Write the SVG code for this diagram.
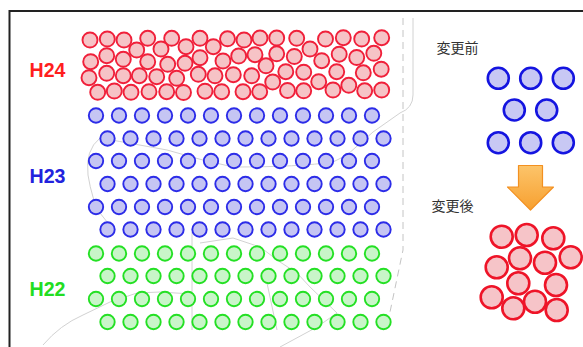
<svg xmlns="http://www.w3.org/2000/svg" xmlns:xlink="http://www.w3.org/1999/xlink" width="583" height="347" viewBox="0 0 583 347">
<style>
.bg{fill:none;stroke:#d2d2d2;stroke-width:1}
.dash{fill:none;stroke:#c4c4c4;stroke-width:1;stroke-dasharray:7 5}
.red{fill:#f6c3c6;stroke:#f0203a;stroke-width:1.9}
.blue{fill:#c5c5f3;stroke:#2c2ce8;stroke-width:1.9}
.green{fill:#c9f5c9;stroke:#24e024;stroke-width:1.9}
.rb{fill:#c8c8f4;stroke:#1414e0;stroke-width:2.6}
.rr{fill:#f6c4c8;stroke:#ee1428;stroke-width:2.6}
.lbl{font-family:"Liberation Sans",Arial,sans-serif;font-weight:bold;font-size:20px}
.jp{font-family:"Noto Sans CJK JP","Noto Sans CJK SC",sans-serif;font-size:14px;fill:#333}
</style>
<defs>
<g id="rowO">
<circle cx="96" cy="0" r="7.2"/><circle cx="119" cy="0" r="7.2"/><circle cx="142" cy="0" r="7.2"/><circle cx="165" cy="0" r="7.2"/><circle cx="188" cy="0" r="7.2"/><circle cx="211" cy="0" r="7.2"/><circle cx="234" cy="0" r="7.2"/><circle cx="257" cy="0" r="7.2"/><circle cx="280" cy="0" r="7.2"/><circle cx="303" cy="0" r="7.2"/><circle cx="326" cy="0" r="7.2"/><circle cx="349" cy="0" r="7.2"/><circle cx="372" cy="0" r="7.2"/>
</g>
<g id="rowE">
<circle cx="107.5" cy="0" r="7.2"/><circle cx="130.5" cy="0" r="7.2"/><circle cx="153.5" cy="0" r="7.2"/><circle cx="176.5" cy="0" r="7.2"/><circle cx="199.5" cy="0" r="7.2"/><circle cx="222.5" cy="0" r="7.2"/><circle cx="245.5" cy="0" r="7.2"/><circle cx="268.5" cy="0" r="7.2"/><circle cx="291.5" cy="0" r="7.2"/><circle cx="314.5" cy="0" r="7.2"/><circle cx="337.5" cy="0" r="7.2"/><circle cx="360.5" cy="0" r="7.2"/><circle cx="383.5" cy="0" r="7.2"/>
</g>
<linearGradient id="og" x1="0" y1="0" x2="0" y2="1">
<stop offset="0" stop-color="#fcc46a"/>
<stop offset="1" stop-color="#f7a030"/>
</linearGradient>
</defs>
<rect width="583" height="347" fill="#fff"/>
<g id="background">
<path class="dash" d="M403,18 V250 L390,312"/>
<path class="bg" d="M413,18 V95 Q413,108 400,113 L373,132 L347,155 L333,162 Q300,167 233,167"/>
<path class="bg" d="M100,138 Q140,145 167,150 Q200,160 233,167"/>
<path class="bg" d="M100,138 Q85,150 88,175 Q92,200 100,213 L115,232"/>
<path class="bg" d="M43,345 Q60,325 83,315 L110,302 L137,293 L160,292 L192,294"/>
<path class="bg" d="M192,232 V330"/>
<path class="bg" d="M200,243 L233,238 L260,247 L280,262 L297,273 L310,287 L337,313 L317,327 L280,347"/>
<path class="bg" d="M267,283 L277,330"/>
</g>
<g id="frame" fill="none" stroke="#222" stroke-width="2">
<path d="M9.5,347 V11 H583"/>
</g>
<g id="h24">
<text class="lbl" x="29.5" y="76.5" fill="#ff1e1e" textLength="36" lengthAdjust="spacingAndGlyphs">H24</text>
<g class="red">
<circle cx="90" cy="40" r="7.5"/><circle cx="107.3" cy="39" r="7.5"/><circle cx="124" cy="40" r="7.5"/><circle cx="147.7" cy="38.3" r="7.5"/><circle cx="171.7" cy="38.3" r="7.5"/><circle cx="200" cy="38.3" r="7.5"/><circle cx="227.5" cy="38.8" r="7.5"/><circle cx="244" cy="40" r="7.5"/><circle cx="260" cy="38" r="7.5"/><circle cx="276.7" cy="38" r="7.5"/><circle cx="296.7" cy="38.3" r="7.5"/><circle cx="325.5" cy="39" r="7.5"/><circle cx="343.3" cy="37.7" r="7.5"/><circle cx="361.7" cy="39" r="7.5"/><circle cx="381.7" cy="37.7" r="7.5"/>
<circle cx="136.7" cy="50" r="7.5"/><circle cx="161" cy="49" r="7.5"/><circle cx="186" cy="46.7" r="7.5"/><circle cx="213.3" cy="46.7" r="7.5"/><circle cx="310" cy="49" r="7.5"/>
<circle cx="106.7" cy="55.7" r="7.5"/><circle cx="200" cy="57.7" r="7.5"/><circle cx="238.7" cy="56" r="7.5"/><circle cx="255" cy="54.7" r="7.5"/><circle cx="276.7" cy="53.8" r="7.5"/><circle cx="294.3" cy="56.5" r="7.5"/><circle cx="339.2" cy="54.2" r="7.5"/><circle cx="356.7" cy="57.5" r="7.5"/><circle cx="373.8" cy="53.3" r="7.5"/>
<circle cx="90.7" cy="61.7" r="7.5"/><circle cx="123.3" cy="59.3" r="7.5"/><circle cx="147.7" cy="61.7" r="7.5"/><circle cx="167.7" cy="64.3" r="7.5"/><circle cx="185" cy="63.3" r="7.5"/><circle cx="223" cy="61" r="7.5"/><circle cx="266" cy="65.8" r="7.5"/><circle cx="321.7" cy="60.7" r="7.5"/>
<circle cx="106.7" cy="73.3" r="7.5"/><circle cx="89" cy="77.7" r="7.5"/><circle cx="123.3" cy="75.7" r="7.5"/><circle cx="139.3" cy="75.7" r="7.5"/><circle cx="156.7" cy="76.7" r="7.5"/><circle cx="176.7" cy="78.3" r="7.5"/><circle cx="198.3" cy="74.3" r="7.5"/><circle cx="215" cy="75.8" r="7.5"/><circle cx="233.3" cy="74.7" r="7.5"/><circle cx="251.7" cy="75.8" r="7.5"/><circle cx="285.8" cy="71.7" r="7.5"/><circle cx="303.7" cy="72.2" r="7.5"/><circle cx="336.7" cy="71.7" r="7.5"/><circle cx="363.3" cy="72.8" r="7.5"/><circle cx="381.2" cy="69.2" r="7.5"/>
<circle cx="272.7" cy="82" r="7.5"/><circle cx="318.7" cy="81.7" r="7.5"/><circle cx="348.8" cy="85.3" r="7.5"/>
<circle cx="97.7" cy="92.3" r="7.5"/><circle cx="114.3" cy="91" r="7.5"/><circle cx="131" cy="92.3" r="7.5"/><circle cx="149" cy="91.7" r="7.5"/><circle cx="166.7" cy="91.7" r="7.5"/><circle cx="183.5" cy="92.5" r="7.5"/><circle cx="205" cy="91.2" r="7.5"/><circle cx="221.7" cy="91.7" r="7.5"/><circle cx="243" cy="91.7" r="7.5"/><circle cx="259.7" cy="91.7" r="7.5"/><circle cx="287.5" cy="90.5" r="7.5"/><circle cx="303.7" cy="90.8" r="7.5"/><circle cx="333" cy="90" r="7.5"/><circle cx="364.7" cy="90.8" r="7.5"/><circle cx="381.7" cy="90" r="7.5"/>
</g>
</g>
<g id="h23">
<text class="lbl" x="29.5" y="183" fill="#2222dd" textLength="36" lengthAdjust="spacingAndGlyphs">H23</text>
<g class="blue">
<use href="#rowO" y="115.5"/><use href="#rowE" y="138.5"/><use href="#rowO" y="161"/><use href="#rowE" y="184"/><use href="#rowO" y="207"/><use href="#rowE" y="229.5"/>
</g>
</g>
<g id="h22">
<text class="lbl" x="29.5" y="296" fill="#22dd22" textLength="36" lengthAdjust="spacingAndGlyphs">H22</text>
<g class="green">
<use href="#rowO" y="253.5"/><use href="#rowE" y="276"/><use href="#rowO" y="299"/><use href="#rowE" y="322"/>
</g>
</g>
<g id="before">
<text class="jp" x="436.5" y="53">変更前</text>
<g class="rb">
<circle cx="498.3" cy="78.3" r="10.5"/><circle cx="530.7" cy="78.3" r="10.5"/><circle cx="563.3" cy="78.3" r="10.5"/>
<circle cx="514.3" cy="110" r="10.5"/><circle cx="546.7" cy="110" r="10.5"/>
<circle cx="498.3" cy="142.7" r="10.5"/><circle cx="530.7" cy="142.7" r="10.5"/><circle cx="563.3" cy="142.7" r="10.5"/>
</g>
</g>
<g id="arrow">
<path d="M518.5,165.5 H542.5 V187 H553.5 L530.5,210 L507.5,187 H518.5 Z" fill="url(#og)" stroke="#f39020" stroke-width="1.2" stroke-linejoin="round"/>
</g>
<g id="after">
<text class="jp" x="431.5" y="211">変更後</text>
<g class="rr">
<circle cx="501.7" cy="236.7" r="11"/><circle cx="526.7" cy="235" r="11"/><circle cx="553.3" cy="238.3" r="11"/>
<circle cx="520" cy="258.3" r="11"/><circle cx="545" cy="262.7" r="11"/><circle cx="570.7" cy="257.3" r="11"/>
<circle cx="496.7" cy="267.3" r="11"/><circle cx="518.3" cy="283.3" r="11"/><circle cx="556" cy="285" r="11"/>
<circle cx="491.7" cy="297.3" r="11"/><circle cx="513.3" cy="308.3" r="11"/><circle cx="535" cy="301.7" r="11"/><circle cx="556.7" cy="310" r="11"/>
</g>
</g>
</svg>
